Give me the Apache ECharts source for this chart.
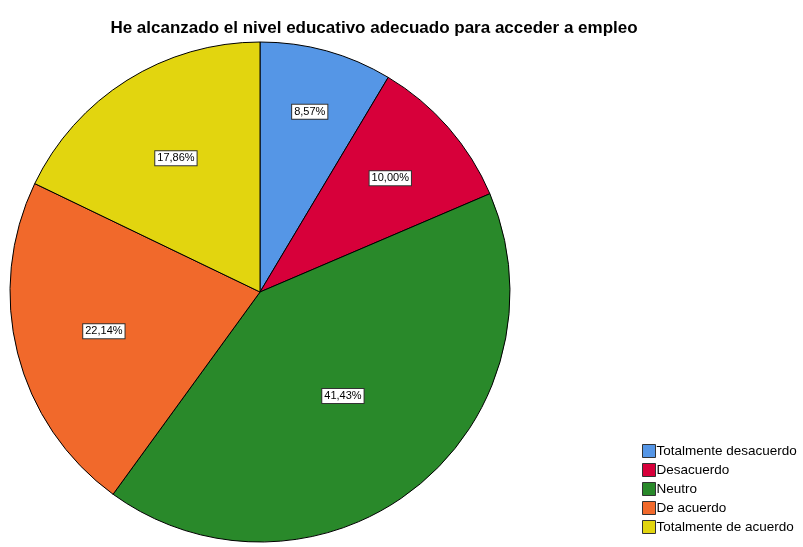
<!DOCTYPE html>
<html><head><meta charset="utf-8">
<script src="https://cdn.jsdelivr.net/npm/echarts@6/dist/echarts.min.js"></script>
<style>html,body{margin:0;padding:0;background:#fff}#c{width:803px;height:547px}</style>
</head><body><div id="c"></div>
<script>
const titleText = 'He alcanzado el nivel educativo adecuado para acceder a empleo';
const categories = ['Totalmente desacuerdo','Desacuerdo','Neutro','De acuerdo','Totalmente de acuerdo'];
const values = [8.57, 10.00, 41.43, 22.14, 17.86];
const colors = ['#5596E6','#D7003A','#29892A','#F1692B','#E2D50F'];
const labelRadii = [184, 170, 130, 158, 155];

const chart = echarts.init(document.getElementById('c'));
const center = [260, 292];
const R = 250;
const fmt = v => v.toFixed(2).replace('.', ',') + '%';

const series = [{
  type: 'pie', center: center, radius: [0, R], startAngle: 90, clockwise: true,
  silent: true, animation: false,
  label: {show: false}, labelLine: {show: false},
  itemStyle: {borderColor: '#000', borderWidth: 1},
  data: categories.map((n, i) => ({name: n, value: values[i], itemStyle: {color: colors[i]}}))
}];
labelRadii.forEach((lr, k) => {
  series.push({
    type: 'pie', center: center, radius: [0, lr * 2], startAngle: 90, clockwise: true,
    silent: true, animation: false, z: 5, legendHoverLink: false,
    itemStyle: {color: 'rgba(0,0,0,0)', borderWidth: 0},
    labelLine: {show: false},
    data: categories.map((n, i) => ({
      name: n, value: values[i],
      label: {show: i === k, position: 'inside', formatter: () => fmt(values[i]),
        color: '#000', fontFamily: 'Liberation Sans, Arial', fontSize: 11,
        backgroundColor: '#fff', borderColor: '#333', borderWidth: 1, padding: [2, 2, 1, 2]}
    }))
  });
});

chart.setOption({
  animation: false,
  title: {text: titleText, left: 369, top: 15, textAlign: 'center',
    textStyle: {fontFamily: 'Liberation Sans, Arial', fontSize: 17, fontWeight: 'bold', color: '#000'}},
  color: colors,
  legend: {
    orient: 'vertical', left: 637, top: 439, itemWidth: 13, itemHeight: 13, itemGap: 5,
    icon: 'rect', selectedMode: false, data: categories,
    itemStyle: {borderColor: '#333', borderWidth: 1},
    textStyle: {fontFamily: 'Liberation Sans, Arial', fontSize: 13.5, color: '#000', padding: [0,0,0,-4]}
  },
  series: series
});
</script></body></html>
